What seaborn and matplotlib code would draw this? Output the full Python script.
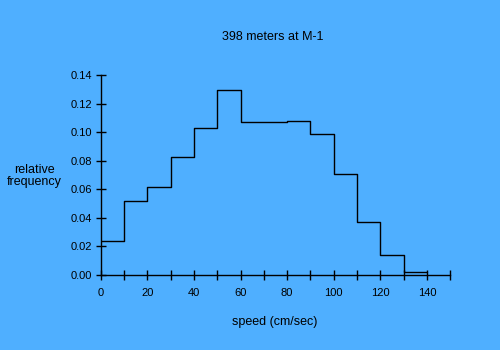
import matplotlib
matplotlib.use("Agg")
import matplotlib.pyplot as plt
import seaborn as sns
import numpy as np

# Data
bin_edges = [0, 10, 20, 30, 40, 50, 60, 70, 80, 90, 100, 110, 120, 130, 140]
bin_centers = [5, 15, 25, 35, 45, 55, 65, 75, 85, 95, 105, 115, 125, 135]
rel_freq = [0.024, 0.052, 0.062, 0.083, 0.103, 0.130, 0.107, 0.107,
            0.108, 0.099, 0.071, 0.037, 0.014, 0.002]
x_ticks = [0, 10, 20, 30, 40, 50, 60, 70, 80, 90, 100, 110, 120, 130, 140, 150]
x_tick_labels = ["0", "", "20", "", "40", "", "60", "", "80", "", "100", "", "120", "", "140", ""]
y_ticks = [0.00, 0.02, 0.04, 0.06, 0.08, 0.10, 0.12, 0.14]
y_tick_labels = ["0.00", "0.02", "0.04", "0.06", "0.08", "0.10", "0.12", "0.14"]

bg = "#4FAFFF"
sns.set_theme(style="ticks")
plt.rcParams["font.family"] = ["Liberation Sans", "DejaVu Sans"]

fig = plt.figure(figsize=(5, 3.5), dpi=100, facecolor=bg)
ax = fig.add_axes([100.7 / 500, 1 - 275 / 350, (450.3 - 100.7) / 500, (275 - 75.3) / 350])
ax.set_facecolor(bg)

sns.histplot(x=bin_centers, weights=rel_freq, bins=bin_edges, element="step",
             fill=False, color="black", linewidth=1.0, ax=ax)

ax.set_xlim(0, 150)
ax.set_ylim(0, 0.14)
ax.set_xticks(x_ticks)
ax.set_xticklabels(x_tick_labels)
ax.set_yticks(y_ticks)
ax.set_yticklabels(y_tick_labels)
ax.tick_params(axis="both", direction="inout", length=6.5, width=1.0, colors="black",
               labelsize=8)
ax.tick_params(axis="x", pad=6)
ax.tick_params(axis="y", pad=3)
for s in ["top", "right"]:
    ax.spines[s].set_visible(False)
for s in ["left", "bottom"]:
    ax.spines[s].set_color("black")
    ax.spines[s].set_linewidth(1.0)
ax.set_xlabel("")
ax.set_ylabel("")

fig.text(273 / 500, 1 - 37 / 350, "398 meters at M-1", ha="center", va="center",
         fontsize=9, color="black")
fig.text(275 / 500, 1 - 322 / 350, "speed (cm/sec)", ha="center", va="center",
         fontsize=9, color="black")
fig.text(34 / 500, 1 - 176 / 350, "relative\nfrequency", ha="center", va="center",
         fontsize=9, color="black", linespacing=1.0)

fig.savefig("out.png", dpi=100, facecolor=bg)
